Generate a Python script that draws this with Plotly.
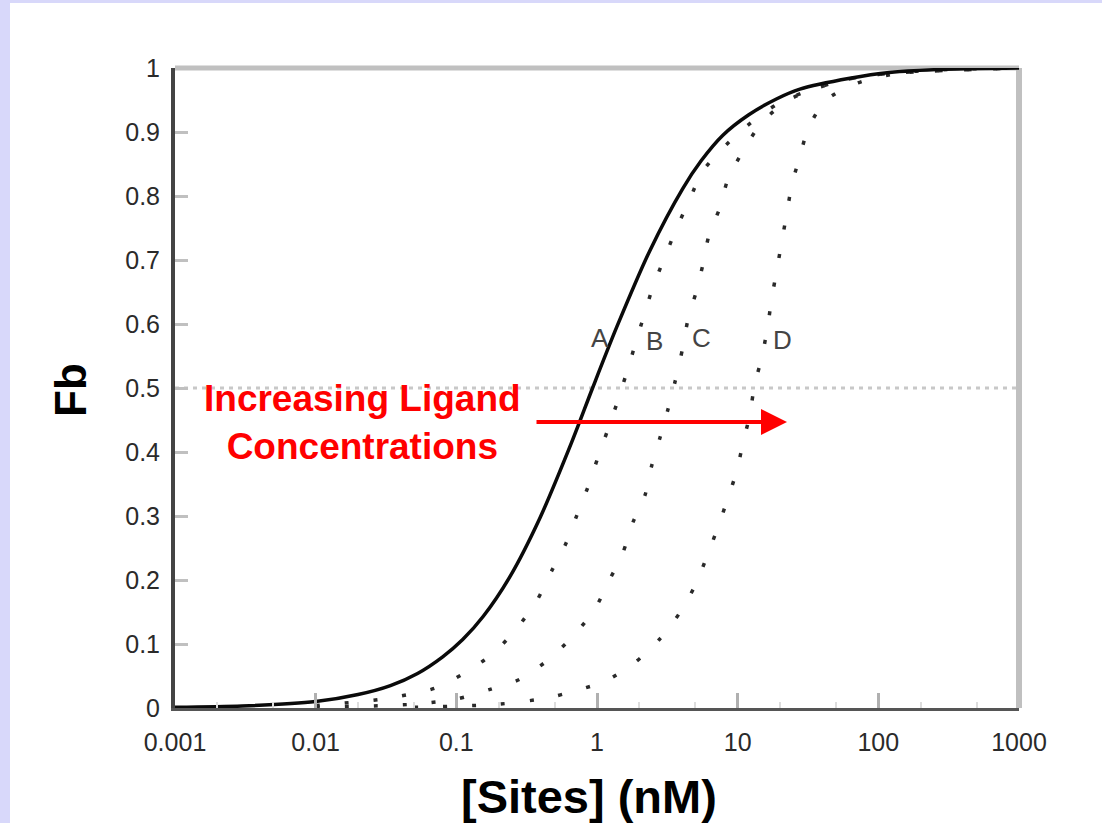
import math
import plotly.graph_objects as go

# ---- data ----
a_x = [0.001, 0.003, 0.01, 0.02, 0.034, 0.053, 0.08, 0.111, 0.155, 0.24, 0.393, 0.66, 0.93,
       1.38, 2.38, 4.08, 5.5, 7.85, 12, 19, 27.7, 62.7, 120, 300, 1000]
a_fb = [0.001, 0.003, 0.010, 0.021, 0.035, 0.054, 0.080, 0.107, 0.143, 0.205, 0.297, 0.415, 0.5,
        0.595, 0.715, 0.812, 0.855, 0.895, 0.927, 0.952, 0.967, 0.984, 0.993, 0.998, 1.0]

b_x = [0.01, 0.03, 0.0705, 0.111, 0.182, 0.27, 0.374, 0.478, 0.601, 0.719, 0.861, 1.01, 1.19,
       1.41, 1.63, 2.19, 2.5, 3.04, 3.7, 4.57, 5.66, 10, 20, 50, 100, 1000]
b_fb = [0.004, 0.014, 0.031, 0.053, 0.085, 0.125, 0.168, 0.215, 0.257, 0.301, 0.345, 0.390, 0.434,
        0.481, 0.525, 0.618, 0.658, 0.705, 0.751, 0.795, 0.839, 0.897, 0.946, 0.978, 0.99, 1.0]

c_x = [0.01, 0.05, 0.1, 0.179, 0.283, 0.46, 0.70, 0.966, 1.24, 1.53, 1.80, 2.19, 2.45, 2.80, 3.19,
       3.58, 4.08, 4.43, 5.05, 5.66, 6.24, 7.48, 8.52, 10.9, 14.9, 23.5, 50, 100, 1000]
c_fb = [0.001, 0.006, 0.014, 0.030, 0.045, 0.077, 0.116, 0.155, 0.202, 0.243, 0.290, 0.332, 0.379,
        0.422, 0.466, 0.509, 0.564, 0.607, 0.649, 0.693, 0.738, 0.782, 0.826, 0.870, 0.915, 0.951,
        0.978, 0.99, 1.0]

d_x = [0.05, 0.2, 0.45, 0.70, 1.14, 1.86, 2.80, 3.88, 5.05, 6.14, 7.23, 8.52, 9.87, 10.9, 12.2,
       13.2, 14.9, 16.4, 17.5, 19.0, 20.6, 22.4, 24.3, 27.7, 31.6, 41.7, 68, 150, 1000]
d_fb = [0.001, 0.006, 0.016, 0.027, 0.042, 0.071, 0.108, 0.149, 0.194, 0.241, 0.282, 0.328, 0.371,
        0.414, 0.458, 0.505, 0.549, 0.599, 0.641, 0.685, 0.729, 0.774, 0.818, 0.862, 0.904, 0.948,
        0.975, 0.993, 1.0]

curve_labels = ["A", "B", "C", "D"]
label_x = [1.05, 2.58, 5.56, 20.9]
label_fb = [0.578, 0.573, 0.578, 0.575]

x_tickvals = [0.001, 0.01, 0.1, 1, 10, 100, 1000]
x_ticktext = ["0.001", "0.01", "0.1", "1", "10", "100", "1000"]
y_tickvals = [0, 0.1, 0.2, 0.3, 0.4, 0.5, 0.6, 0.7, 0.8, 0.9, 1]
y_ticktext = ["0", "0.1", "0.2", "0.3", "0.4", "0.5", "0.6", "0.7", "0.8", "0.9", "1"]

ref_fb = 0.5

FONT = "Liberation Sans, Arial, sans-serif"
W, H = 1102, 823
L, R, T, B = 175, 83, 68, 115
PW, PH = W - L - R, H - T - B


def px(xp):
    return (xp - L) / PW


def py(yp):
    return (H - B - yp) / PH


fig = go.Figure()

# reference line at Fb = 0.5
fig.add_trace(go.Scatter(x=[x_tickvals[0], x_tickvals[-1]], y=[ref_fb, ref_fb], mode="lines",
                         line=dict(color="#c8c8c8", width=3, dash="4px,5px"),
                         hoverinfo="skip", showlegend=False))

dot = dict(color="#2a2a2a", width=3.5, dash="4px,25px")
for xs, ys in [(b_x, b_fb), (c_x, c_fb), (d_x, d_fb)]:
    fig.add_trace(go.Scatter(x=xs, y=ys, mode="lines", line=dict(dot, shape="spline", smoothing=0.8),
                             showlegend=False))

fig.add_trace(go.Scatter(x=a_x, y=a_fb, mode="lines",
                         line=dict(color="#0a0a0a", width=3.5, shape="spline", smoothing=0.8),
                         showlegend=False))

annotations = []
for t, lx, ly in zip(curve_labels, label_x, label_fb):
    annotations.append(dict(x=math.log10(lx), y=ly, xref="x", yref="y", text=t, showarrow=False,
                            xanchor="center", yanchor="middle",
                            font=dict(family=FONT, size=26, color="#444444")))

annotations += [
    dict(x=px(362), y=py(422), xref="paper", yref="paper",
         text="<b>Increasing Ligand<br>Concentrations</b>", showarrow=False,
         xanchor="center", yanchor="middle",
         font=dict(family=FONT, size=37, color="#ff0000"), align="center"),
    dict(x=px(787), y=py(422), xref="paper", yref="paper", ax=-252, ay=0,
         axref="pixel", ayref="pixel", text="", showarrow=True, arrowhead=2,
         arrowsize=1.3, arrowwidth=4, arrowcolor="#ff0000"),
    dict(x=px(70), y=py(390), xref="paper", yref="paper", text="<b>Fb</b>", textangle=-90,
         xanchor="center", yanchor="middle",
         showarrow=False, font=dict(family=FONT, size=44, color="#000000")),
    dict(x=px(589), y=py(796), xref="paper", yref="paper", text="<b>[Sites] (nM)</b>",
         xanchor="center", yanchor="middle",
         showarrow=False, font=dict(family=FONT, size=47, color="#000000")),
]

shapes = [
    # white panel over the lavender page
    dict(type="rect", xref="paper", yref="paper", x0=px(10), x1=px(W), y0=py(H), y1=py(3),
         fillcolor="white", line=dict(width=0), layer="below"),
    # top and right frame (light gray)
    dict(type="line", xref="paper", yref="paper", x0=0, x1=1, y0=1, y1=1,
         line=dict(color="#c0c0c0", width=5), layer="below"),
    dict(type="line", xref="paper", yref="paper", x0=1, x1=1, y0=0, y1=1,
         line=dict(color="#c0c0c0", width=6), layer="below"),
]

fig.update_layout(
    width=W, height=H,
    margin=dict(l=L, r=R, t=T, b=B),
    paper_bgcolor="#d8d8fa",
    plot_bgcolor="white",
    showlegend=False,
    annotations=annotations,
    shapes=shapes,
    xaxis=dict(type="log", range=[-3, 3], tickvals=x_tickvals, ticktext=x_ticktext,
               ticks="inside", ticklen=15, tickwidth=3, tickcolor="#b0b0b0",
               showline=True, linecolor="#555555", linewidth=3, showgrid=False, zeroline=False,
               ticklabelstandoff=10,
               minor=dict(ticks="inside", ticklen=6, tickwidth=2, tickcolor="#dddddd", showgrid=False),
               tickfont=dict(family=FONT, size=25, color="#2a2a2a")),
    yaxis=dict(range=[0, 1], tickvals=y_tickvals, ticktext=y_ticktext,
               ticks="inside", ticklen=13, tickwidth=3, tickcolor="#c0c0c0",
               showline=True, linecolor="#444444", linewidth=4, showgrid=False, zeroline=False,
               ticklabelstandoff=6,
               tickfont=dict(family=FONT, size=25, color="#2a2a2a")),
)

fig.write_html("out.html")
